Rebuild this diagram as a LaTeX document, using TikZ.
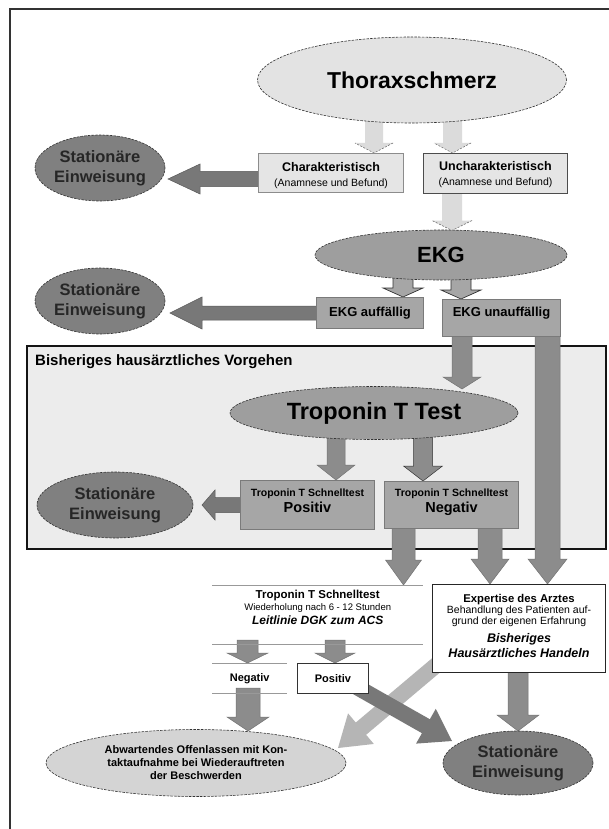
\documentclass[tikz,border=0pt]{standalone}
\usepackage{fontspec}
\setmainfont{Liberation Sans}
\usetikzlibrary{shapes.geometric,calc}
\definecolor{thfill}{gray}{0.89}
\definecolor{statfill}{gray}{0.50}
\definecolor{ekgfill}{gray}{0.62}
\definecolor{abwfill}{gray}{0.83}
\definecolor{charfill}{gray}{0.90}
\definecolor{boxfill}{gray}{0.65}
\definecolor{boxborder}{gray}{0.48}
\definecolor{bigfill}{gray}{0.925}
\definecolor{lightarr}{gray}{0.86}
\definecolor{darkarr}{gray}{0.47}
\definecolor{midarr}{gray}{0.55}
\definecolor{diagl}{gray}{0.71}
\newcommand\blkarr[6][]{%
  \coordinate (hb) at ($(#3)!#6!(#2)$);
  \path[#1] ($(#2)!#4!90:(#3)$) -- ($(hb)!#4!90:(#3)$) -- ($(hb)!#5!90:(#3)$) -- (#3) -- ($(hb)!#5!-90:(#3)$) -- ($(hb)!#4!-90:(#3)$) -- ($(#2)!#4!-90:(#3)$) -- cycle;}
\newcommand\blkhead[5][]{%
  \coordinate (hb) at ($(#3)!#5!(#2)$);
  \draw[#1] ($(hb)!#4!90:(#3)$) -- (#3) -- ($(hb)!#4!-90:(#3)$);}
\begin{document}
\begin{tikzpicture}[x=1pt,y=-1pt,
  ell/.style={ellipse, draw=black!80, dash pattern=on 2.5pt off 1.2pt, line width=0.6pt, inner sep=0pt, align=center},
  stat/.style={ell, fill=statfill, minimum width=130pt, minimum height=66pt, font=\fontsize{16.5}{20}\selectfont\bfseries, text=black!85},
  box/.style={rectangle, inner sep=0pt, align=center, anchor=north west},
  grbox/.style={box, fill=boxfill, draw=boxborder, line width=1pt},
  sline/.style={draw=black!40, line width=1pt},
  lightA/.style={fill=lightarr},
  headedge/.style={draw=black!60, line width=0.5pt, dash pattern=on 2pt off 1.5pt},
  leftA/.style={fill=darkarr, draw=black!65, line width=0.5pt},
  ekgA/.style={fill=boxfill, draw=black!80, line width=0.7pt},
  midA/.style={fill=midarr, draw=black!55, line width=0.5pt},
  diagLA/.style={fill=diagl},
  diagDA/.style={fill=darkarr}
]
\fill[white] (0,0) rectangle (609,829);
\useasboundingbox (0,0) rectangle (609,829);
% frame
\draw[line width=1.2pt, black!80] (10,829) -- (10,9) -- (609,9);
% big box
\node[rectangle, anchor=north west, inner sep=0pt, minimum width=579pt, minimum height=203pt, draw=black!92, line width=2pt, fill=bigfill] (big) at (26,345) {};

% arrow end points
\coordinate (a1s) at (374,115);   \coordinate (a1e) at (374,153);
\coordinate (a2s) at (452.5,115); \coordinate (a2e) at (452.5,153);
\coordinate (a3s) at (452,185);   \coordinate (a3e) at (452,230.5);
\coordinate (a4s) at (265,179);   \coordinate (a4e) at (168,179);
\coordinate (a6s) at (403,270);   \coordinate (a6e) at (403,297);
\coordinate (a7s) at (461,270);   \coordinate (a7e) at (461,299);
\coordinate (a8s) at (322,313);   \coordinate (a8e) at (170,313);
\coordinate (a9s) at (462,330);   \coordinate (a9e) at (462,389);
\coordinate (a10s) at (547.5,330);\coordinate (a10e) at (547.5,584);
\coordinate (a11s) at (336,430);  \coordinate (a11e) at (336,480);
\coordinate (a12s) at (423,430);  \coordinate (a12e) at (423,481);
\coordinate (a13s) at (403.5,520);\coordinate (a13e) at (403.5,585);
\coordinate (a14s) at (490,520);  \coordinate (a14e) at (490,584);
\coordinate (a15s) at (247.5,640);\coordinate (a15e) at (247.5,663);
\coordinate (a16s) at (335,640);  \coordinate (a16e) at (335,663);
\coordinate (a17s) at (248,688);  \coordinate (a17e) at (248,731);
\coordinate (a18s) at (518,665);  \coordinate (a18e) at (518,731);
\coordinate (a19s) at (440,662);  \coordinate (a19e) at (338,748);
\coordinate (a20s) at (355,686);  \coordinate (a20e) at (452,741);
\coordinate (a21s) at (245,505);  \coordinate (a21e) at (202,505);

% arrows
\blkarr[lightA]{a1s}{a1e}{9pt}{19pt}{10pt}
\blkhead[headedge]{a1s}{a1e}{19pt}{10pt}
\blkarr[lightA]{a2s}{a2e}{9.5pt}{18.5pt}{10pt}
\blkhead[headedge]{a2s}{a2e}{18.5pt}{10pt}
\blkarr[lightA]{a3s}{a3e}{10pt}{20pt}{10pt}
\blkhead[headedge]{a3s}{a3e}{20pt}{10pt}
\blkarr[leftA]{a4s}{a4e}{7.5pt}{15pt}{32pt}
\blkarr[ekgA]{a6s}{a6e}{10pt}{20pt}{9pt}
\blkarr[ekgA]{a7s}{a7e}{10pt}{20pt}{9pt}
\blkarr[leftA]{a8s}{a8e}{7pt}{16pt}{32pt}
\blkarr[midA]{a9s}{a9e}{10pt}{19pt}{12pt}
\blkarr[midA]{a10s}{a10e}{12.5pt}{19.5pt}{25pt}
\blkarr[midA]{a11s}{a11e}{9pt}{19pt}{15pt}
\blkarr[midA, draw=black!80]{a12s}{a12e}{9.5pt}{19.5pt}{15pt}
\blkarr[midA]{a13s}{a13e}{11.5pt}{18pt}{25pt}
\blkarr[midA]{a14s}{a14e}{12pt}{19pt}{25pt}
\blkarr[midA]{a15s}{a15e}{10.5pt}{20.5pt}{10pt}
\blkarr[midA]{a16s}{a16e}{10pt}{20pt}{10pt}
\blkarr[midA]{a17s}{a17e}{12pt}{21pt}{14pt}
\blkarr[midA]{a18s}{a18e}{10pt}{21pt}{16pt}
\blkarr[diagLA]{a19s}{a19e}{8pt}{20pt}{30pt}
\blkarr[diagDA]{a20s}{a20e}{8pt}{20pt}{30pt}
\blkarr[leftA]{a21s}{a21e}{7.5pt}{15pt}{13pt}

% nodes
\node[ell, fill=thfill, minimum width=309pt, minimum height=86pt, font=\fontsize{23}{27}\selectfont\bfseries] (thorax) at (412,80) {Thoraxschmerz};
\node[stat] (st1) at (100,168) {Stationäre\\Einweisung};
\node[stat] (st2) at (100,301) {Stationäre\\Einweisung};
\node[stat, minimum width=156pt] (st3) at (115,505) {Stationäre\\Einweisung};
\node[stat, minimum width=150pt, minimum height=64pt] (st4) at (518,763) {Stationäre\\Einweisung};

\node[box, fill=charfill, draw=black!45, line width=1.2pt, minimum width=145pt, font={\fontsize{12.5}{15}\selectfont\bfseries\lineskiplimit=-50pt}] (char) at (258,153)
  {\rule{0pt}{17.5pt}Charakteristisch\\{\fontsize{10.5}{15}\selectfont\mdseries (Anamnese und Befund)}\rule[-6.4pt]{0pt}{6.4pt}};
\node[box, fill=charfill, draw=black!70, line width=0.9pt, minimum width=144pt, font={\fontsize{12.5}{15}\selectfont\bfseries\lineskiplimit=-50pt}] (unchar) at (423,153)
  {\rule{0pt}{17.5pt}Uncharakteristisch\\{\fontsize{10.5}{15}\selectfont\mdseries (Anamnese und Befund)}\rule[-7.4pt]{0pt}{7.4pt}};

\node[ell, fill=ekgfill, minimum width=252pt, minimum height=50pt, font=\fontsize{22}{26}\selectfont\bfseries] (ekg) at (441,255) {EKG};
\node[grbox, minimum width=107pt, text height=18.7pt, text depth=12.3pt, font=\fontsize{13}{15}\selectfont\bfseries] (eauf) at (316,297) {EKG auffällig};
\node[grbox, minimum width=118pt, text height=16.7pt, text depth=20.3pt, font=\fontsize{13}{15}\selectfont\bfseries] (eunauf) at (442,299) {EKG unauffällig};

\node[anchor=base west, inner sep=0pt, font=\fontsize{15}{17}\selectfont\bfseries] (lbl) at (35,365) {Bisheriges hausärztliches Vorgehen};
\node[ell, fill=ekgfill, minimum width=288pt, minimum height=53pt, font=\fontsize{23.5}{28}\selectfont\bfseries] (trop) at (374,413) {Troponin T Test};

\node[grbox, minimum width=134pt, font={\fontsize{10.5}{16.4}\selectfont\bfseries\lineskiplimit=-50pt}] (tpos) at (240,480)
  {\rule{0pt}{15.8pt}Troponin T Schnelltest\\{\fontsize{14.5}{16.4}\selectfont Positiv}\rule[-16.8pt]{0pt}{16.8pt}};
\node[grbox, minimum width=134pt, font={\fontsize{10.5}{16.4}\selectfont\bfseries\lineskiplimit=-50pt}] (tneg) at (384,481)
  {\rule{0pt}{14.8pt}Troponin T Schnelltest\\{\fontsize{14.5}{16.4}\selectfont Negativ}\rule[-15.8pt]{0pt}{15.8pt}};

\node[box, minimum width=211pt, font={\fontsize{11.5}{12.5}\selectfont\bfseries\lineskiplimit=-50pt}] (schnell) at (212,585)
  {\rule{0pt}{13.1pt}Troponin T Schnelltest\\{\fontsize{9.5}{12.5}\selectfont\mdseries Wiederholung nach 6 - 12 Stunden}\\[1.4pt]{\fontsize{12}{12.5}\selectfont\bfseries\itshape Leitlinie DGK zum ACS}\rule[-19.7pt]{0pt}{19.7pt}};
\draw[sline] (schnell.north west) -- (schnell.north east);
\draw[sline] (schnell.south west) -- (schnell.south east);

\node[box, fill=white, draw=black!85, line width=1pt, minimum width=173pt, font={\fontsize{10.5}{11}\selectfont\lineskiplimit=-50pt}] (expert) at (432,584)
  {\rule{0pt}{18pt}{\fontsize{11.3}{11}\selectfont\bfseries Expertise des Arztes}\\Behandlung des Patienten auf-\\grund der eigenen Erfahrung\\[6.9pt]{\fontsize{12.5}{11}\selectfont\bfseries\itshape Bisheriges}\\[4pt]{\fontsize{12.5}{11}\selectfont\bfseries\itshape Hausärztliches Handeln}\rule[-15.5pt]{0pt}{15.5pt}};

\node[box, minimum width=75pt, minimum height=30pt, font=\fontsize{11}{13}\selectfont\bfseries] (neg2) at (212,663) {Negativ};
\draw[sline] (neg2.north west) -- (neg2.north east);
\draw[sline] (neg2.south west) -- (neg2.south east);
\node[box, fill=white, draw=black!80, line width=0.8pt, minimum width=71pt, minimum height=30pt, font=\fontsize{11}{13}\selectfont\bfseries] (pos2) at (297,663) {Positiv};

\node[ell, fill=abwfill, minimum width=300pt, minimum height=67pt, font={\fontsize{11}{13}\selectfont\bfseries\lineskiplimit=-50pt}] (abw) at (196,763)
  {Abwartendes Offenlassen mit Kon-\\taktaufnahme bei Wiederauftreten\\der Beschwerden};
\end{tikzpicture}
\end{document}
